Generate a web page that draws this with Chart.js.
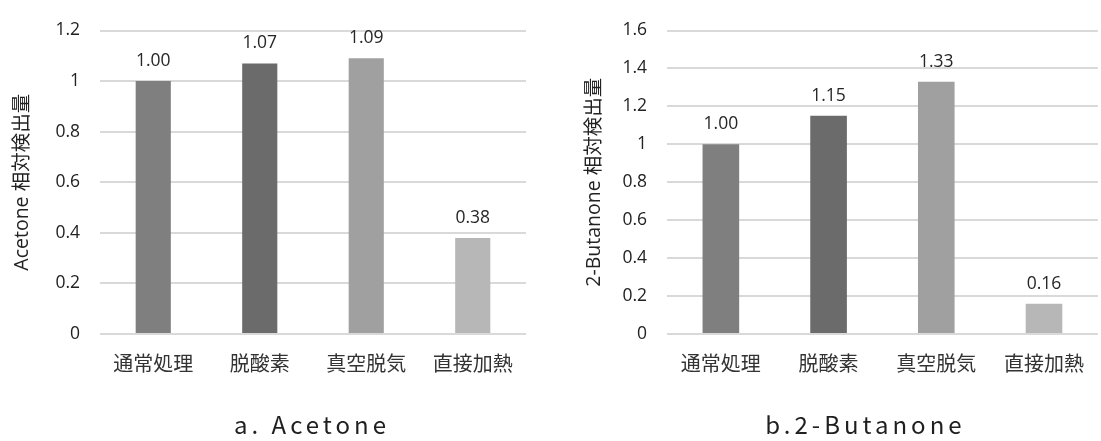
<!DOCTYPE html>
<html>
<head>
<meta charset="utf-8">
<script src="https://cdn.jsdelivr.net/npm/chart.js@4.4.1/dist/chart.umd.min.js"></script>
<style>
  html, body { margin: 0; padding: 0; background: #ffffff; }
  #wrap { position: relative; width: 1101px; height: 441px; overflow: hidden; }
  canvas { position: absolute; top: 0; }
  #acetone { left: 0; }
  #butanone { left: 550px; }
</style>
</head>
<body>
<div id="wrap">
  <canvas id="acetone" width="550" height="441"></canvas>
  <canvas id="butanone" width="551" height="441"></canvas>
</div>
<script>
// Treatment conditions on the x axis
const categories = ['通常処理', '脱酸素', '真空脱気', '直接加熱'];

// Relative detected amounts (通常処理 = 1.00)
const acetoneValues = [1.00, 1.07, 1.09, 0.38];
const butanoneValues = [1.00, 1.15, 1.33, 0.16];

// Axis ranges
const acetoneMax = 1.2;
const butanoneMax = 1.6;
const tickStep = 0.2;

// Texts
const acetoneAxisTitle = 'Acetone 相対検出量';
const butanoneAxisTitle = '2-Butanone 相対検出量';
const acetoneCaption = 'a. Acetone';
const butanoneCaption = 'b.2-Butanone';

const barColors = ['#7f7f7f', '#6b6b6b', '#a0a0a0', '#b7b7b7'];
const latinFont = "'Open Sans', 'Noto Sans CJK JP', sans-serif";
const cjkFont = "'Noto Sans CJK JP', sans-serif";

// Writes each bar's value above it
const valueLabels = {
  id: 'valueLabels',
  afterDatasetsDraw(chart) {
    const ctx = chart.ctx;
    ctx.save();
    ctx.font = '17.5px ' + latinFont;
    ctx.fillStyle = '#262626';
    ctx.textAlign = 'center';
    ctx.textBaseline = 'middle';
    chart.data.datasets.forEach((ds, di) => {
      chart.getDatasetMeta(di).data.forEach((bar, i) => {
        ctx.fillText(Number(ds.data[i]).toFixed(2), bar.x, bar.y - 20);
      });
    });
    ctx.restore();
  }
};

// Spaced caption under each panel
const caption = {
  id: 'caption',
  afterDraw(chart, args, opts) {
    const ctx = chart.ctx;
    const area = chart.chartArea;
    ctx.save();
    ctx.font = '24px ' + cjkFont;
    ctx.fillStyle = '#1f1f1f';
    ctx.textAlign = 'center';
    ctx.textBaseline = 'middle';
    if ('letterSpacing' in ctx) ctx.letterSpacing = '4px';
    ctx.fillText(opts.text, (area.left + area.right) / 2 + opts.shift, area.bottom + 91);
    ctx.restore();
  }
};

function buildChart(canvasId, values, yMax, axisTitle, captionText, look) {
  return new Chart(document.getElementById(canvasId), {
    type: 'bar',
    data: {
      labels: categories,
      datasets: [{
        data: values,
        backgroundColor: barColors,
        borderWidth: 0,
        categoryPercentage: 1,
        barPercentage: look.barPct
      }]
    },
    options: {
      responsive: false,
      animation: false,
      devicePixelRatio: 1,
      layout: { padding: { top: look.top, right: look.right, bottom: 0, left: 0 } },
      plugins: {
        legend: { display: false },
        tooltip: { enabled: false },
        caption: { text: captionText, shift: look.captionShift }
      },
      scales: {
        x: {
          grid: { display: false, drawTicks: false },
          border: { display: false },
          ticks: { padding: 17, color: '#333333', font: { family: cjkFont, size: 20 } },
          afterFit(scale) { scale.height = 107; }
        },
        y: {
          min: 0,
          max: yMax,
          ticks: {
            stepSize: tickStep,
            padding: 20,
            color: '#222222',
            font: { family: latinFont, size: 17.5 },
            callback: (v) => String(Number(Number(v).toFixed(1)))
          },
          grid: { color: '#d9d9d9', lineWidth: 2, drawTicks: false },
          border: { display: false },
          title: {
            display: true,
            text: axisTitle,
            color: '#222222',
            font: { family: latinFont, size: 19.5 },
            padding: { top: look.titlePad, bottom: 0 }
          },
          afterFit(scale) { scale.width = look.axisWidth; }
        }
      }
    },
    plugins: [valueLabels, caption]
  });
}

buildChart('acetone', acetoneValues, acetoneMax, acetoneAxisTitle, acetoneCaption,
  { top: 20, right: 24, axisWidth: 100, titlePad: 11, barPct: 0.33, captionShift: -1 });
buildChart('butanone', butanoneValues, butanoneMax, butanoneAxisTitle, butanoneCaption,
  { top: 13, right: 0, axisWidth: 117, titlePad: 33, barPct: 0.34, captionShift: -17 });
</script>
</body>
</html>
